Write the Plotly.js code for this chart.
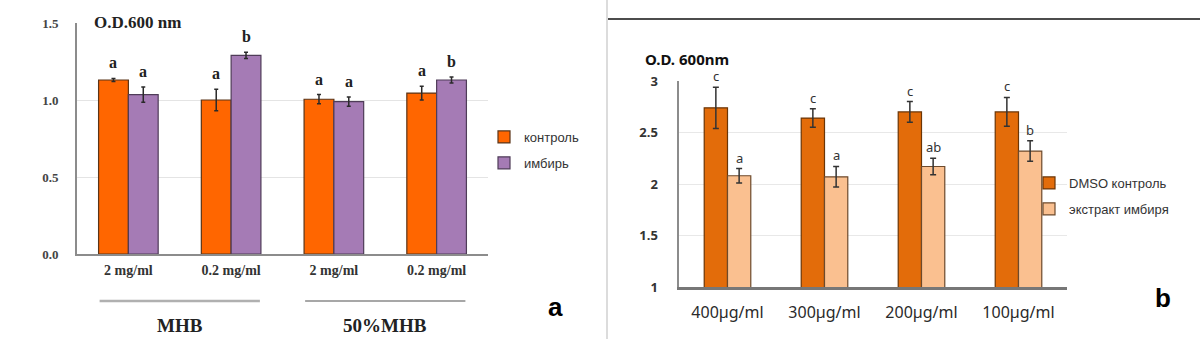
<!DOCTYPE html>
<html>
<head>
<meta charset="utf-8">
<script src="https://cdn.plot.ly/plotly-3.0.1.min.js"></script>
<style>
  html, body { margin: 0; padding: 0; background: #fff; }
  #chart { width: 1200px; height: 339px; }
</style>
</head>
<body>
<div id="chart"></div>
<script>
// Panel a: growth (O.D. 600 nm) in MHB and 50% MHB
const categoriesA = ['2 mg/ml', '0.2 mg/ml', '2 mg/ml', '0.2 mg/ml'];
const mediaA = ['MHB', '50%MHB'];
const controlA = [1.13, 1.00, 1.005, 1.045];
const controlErrA = [0.01, 0.07, 0.03, 0.045];
const gingerA = [1.035, 1.29, 0.99, 1.13];
const gingerErrA = [0.05, 0.02, 0.03, 0.02];
const lettersControlA = ['a', 'a', 'a', 'a'];
const lettersGingerA = ['a', 'b', 'a', 'b'];

// Panel b: DMSO control vs ginger extract
const categoriesB = ['400µg/ml', '300µg/ml', '200µg/ml', '100µg/ml'];
const dmsoB = [2.74, 2.64, 2.70, 2.70];
const dmsoErrB = [0.2, 0.09, 0.1, 0.14];
const extractB = [2.08, 2.07, 2.17, 2.32];
const extractErrB = [0.07, 0.1, 0.08, 0.1];
const lettersDmsoB = ['c', 'c', 'c', 'c'];
const lettersExtractB = ['a', 'a', 'ab', 'b'];

const W = 1200, H = 339;
const px = v => v / W;            // horizontal pixel -> paper
const py = v => 1 - v / H;        // vertical pixel -> paper

const idxA = categoriesA.map((_, i) => i);
const idxB = categoriesB.map((_, i) => i);
const bwA = 0.29, bwB = 0.24;

const serif = 'Liberation Serif, Times New Roman, serif';
const sans = 'Liberation Sans, Arial, sans-serif';
const noto = 'Noto Sans, Open Sans, sans-serif';

function barTrace(x, y, err, w, off, fill, line, name, xa, ya, legend, errColor, errW) {
  return {
    type: 'bar', x: x, y: y, name: name,
    width: x.map(() => w), offset: off,
    xaxis: xa, yaxis: ya, legend: legend, legendgroup: name,
    marker: { color: fill, line: { color: line, width: 1.2 } },
    error_y: { type: 'data', array: err, visible: true, color: errColor, thickness: 1.5, width: errW },
    hoverinfo: 'skip'
  };
}

const traces = [
  barTrace(idxA, controlA, controlErrA, bwA, -bwA, '#FF6600', '#5a3418', 'контроль', 'x', 'y', 'legend', '#2a2a2a', 2),
  barTrace(idxA, gingerA, gingerErrA, bwA, 0, '#A57BB5', '#4f3c58', 'имбирь', 'x', 'y', 'legend', '#2a2a2a', 2),
  barTrace(idxB, dmsoB, dmsoErrB, bwB, -bwB, '#E36C0A', '#6b3506', 'DMSO контроль', 'x2', 'y2', 'legend2', '#333333', 3),
  barTrace(idxB, extractB, extractErrB, bwB, 0, '#FAC090', '#6d4a2c', 'экстракт имбиря', 'x2', 'y2', 'legend2', '#333333', 3)
];

const annotations = [];
// significance letters above each bar
function letters(vals, errs, labels, dx, xref, yref, font, shift) {
  vals.forEach((v, i) => {
    annotations.push({
      x: i + dx, y: v + errs[i], xref: xref, yref: yref,
      text: labels[i], showarrow: false, xanchor: 'center', yanchor: 'bottom', yshift: shift,
      font: font
    });
  });
}
const letterFontA = { family: serif, size: 16, color: '#222', weight: 'bold' };
const letterFontB = { family: noto, size: 13, color: '#333' };
letters(controlA, controlErrA, lettersControlA, -bwA / 2, 'x', 'y', letterFontA, 5);
letters(gingerA, gingerErrA, lettersGingerA, bwA / 2, 'x', 'y', letterFontA, 5);
letters(dmsoB, dmsoErrB, lettersDmsoB, -bwB / 2, 'x2', 'y2', letterFontB, 0);
letters(extractB, extractErrB, lettersExtractB, bwB / 2, 'x2', 'y2', letterFontB, 0);

// axis captions and panel tags
function label(xref, x, y, text, font, extra) {
  annotations.push(Object.assign({
    xref: xref, yref: 'paper', x: x, y: y, text: text, showarrow: false,
    xanchor: 'center', yanchor: 'middle', font: font
  }, extra || {}));
}
label('paper', px(137), py(22), 'O.D.600 nm', { family: serif, size: 17, color: '#222', weight: 'bold' },
      { bgcolor: '#fff', borderpad: 10 });
label('paper', px(687), py(59), 'O.D. 600nm', { family: noto, size: 15, color: '#111', weight: 'bold' });
label('x', 0.5, py(325), mediaA[0], { family: serif, size: 19, color: '#222', weight: 'bold' });
label('x', 2.5, py(325), mediaA[1], { family: serif, size: 19, color: '#222', weight: 'bold' });
label('paper', px(555), py(307), 'a', { family: sans, size: 26, color: '#000', weight: 'bold' });
label('paper', px(1163), py(298), 'b', { family: sans, size: 26, color: '#000', weight: 'bold' });

const shapes = [
  // bracket lines under the concentration labels
  { type: 'line', xref: 'x', yref: 'paper', x0: -0.28, x1: 1.28, y0: py(301), y1: py(301), line: { color: '#b0b0b0', width: 2.5 } },
  { type: 'line', xref: 'x', yref: 'paper', x0: 1.72, x1: 3.28, y0: py(301), y1: py(301), line: { color: '#8a8a8a', width: 1.5 } },
  // panel separators
  { type: 'line', xref: 'paper', yref: 'paper', x0: px(607), x1: px(607), y0: 0, y1: 1, line: { color: '#d0d0d0', width: 1.5 } },
  { type: 'line', xref: 'paper', yref: 'paper', x0: px(608), x1: 1, y0: py(19), y1: py(19), line: { color: '#111', width: 1.5 } }
];

const layout = {
  width: W, height: H,
  margin: { l: 0, r: 0, t: 0, b: 0 },
  paper_bgcolor: '#fff', plot_bgcolor: 'rgba(0,0,0,0)',
  barmode: 'overlay',
  showlegend: true,
  xaxis: {
    domain: [px(77), px(488)], range: [-0.5, 3.5], anchor: 'y',
    tickvals: idxA, ticktext: categoriesA, ticks: '', showgrid: false, zeroline: false,
    showline: true, linecolor: '#8c8c8c', linewidth: 2, ticklabelstandoff: 2,
    tickfont: { family: serif, size: 14, color: '#333', weight: 'bold' }, fixedrange: true
  },
  yaxis: {
    domain: [py(254), py(23)], range: [0, 1.5], anchor: 'x',
    tickvals: [0, 0.5, 1, 1.5], ticktext: ['0.0', '0.5', '1.0', '1.5'], ticks: '',
    showgrid: true, gridcolor: '#e4e4e4', gridwidth: 1, zeroline: false,
    showline: true, linecolor: '#8c8c8c', linewidth: 2, ticklabelstandoff: 14,
    tickfont: { family: serif, size: 13, color: '#444', weight: 'bold' }, fixedrange: true
  },
  xaxis2: {
    domain: [px(679), px(1067)], range: [-0.5, 3.5], anchor: 'y2',
    tickvals: idxB, ticktext: categoriesB, ticks: '', showgrid: false, zeroline: false,
    showline: true, linecolor: '#777', linewidth: 3, ticklabelstandoff: 9,
    tickfont: { family: noto, size: 16, color: '#2a2a2a' }, fixedrange: true
  },
  yaxis2: {
    domain: [py(287), py(81)], range: [1, 3], anchor: 'x2',
    tickvals: [1, 1.5, 2, 2.5, 3], ticktext: ['1', '1.5', '2', '2.5', '3'], ticks: '',
    showgrid: true, gridcolor: '#e8e8e8', gridwidth: 1, zeroline: false,
    showline: true, linecolor: '#8c8c8c', linewidth: 2.5, ticklabelstandoff: 16,
    tickfont: { family: noto, size: 13, color: '#333', weight: 'bold' }, fixedrange: true
  },
  legend: {
    x: px(484), y: py(122), xanchor: 'left', yanchor: 'top',
    bgcolor: 'rgba(0,0,0,0)', borderwidth: 0, tracegroupgap: 6,
    font: { family: sans, size: 13, color: '#333' }
  },
  legend2: {
    x: px(1029), y: py(168), xanchor: 'left', yanchor: 'top',
    bgcolor: 'rgba(0,0,0,0)', borderwidth: 0, tracegroupgap: 6,
    font: { family: sans, size: 13, color: '#333' }
  },
  annotations: annotations,
  shapes: shapes
};

Plotly.newPlot('chart', traces, layout, { staticPlot: true, displayModeBar: false });
</script>
</body>
</html>
